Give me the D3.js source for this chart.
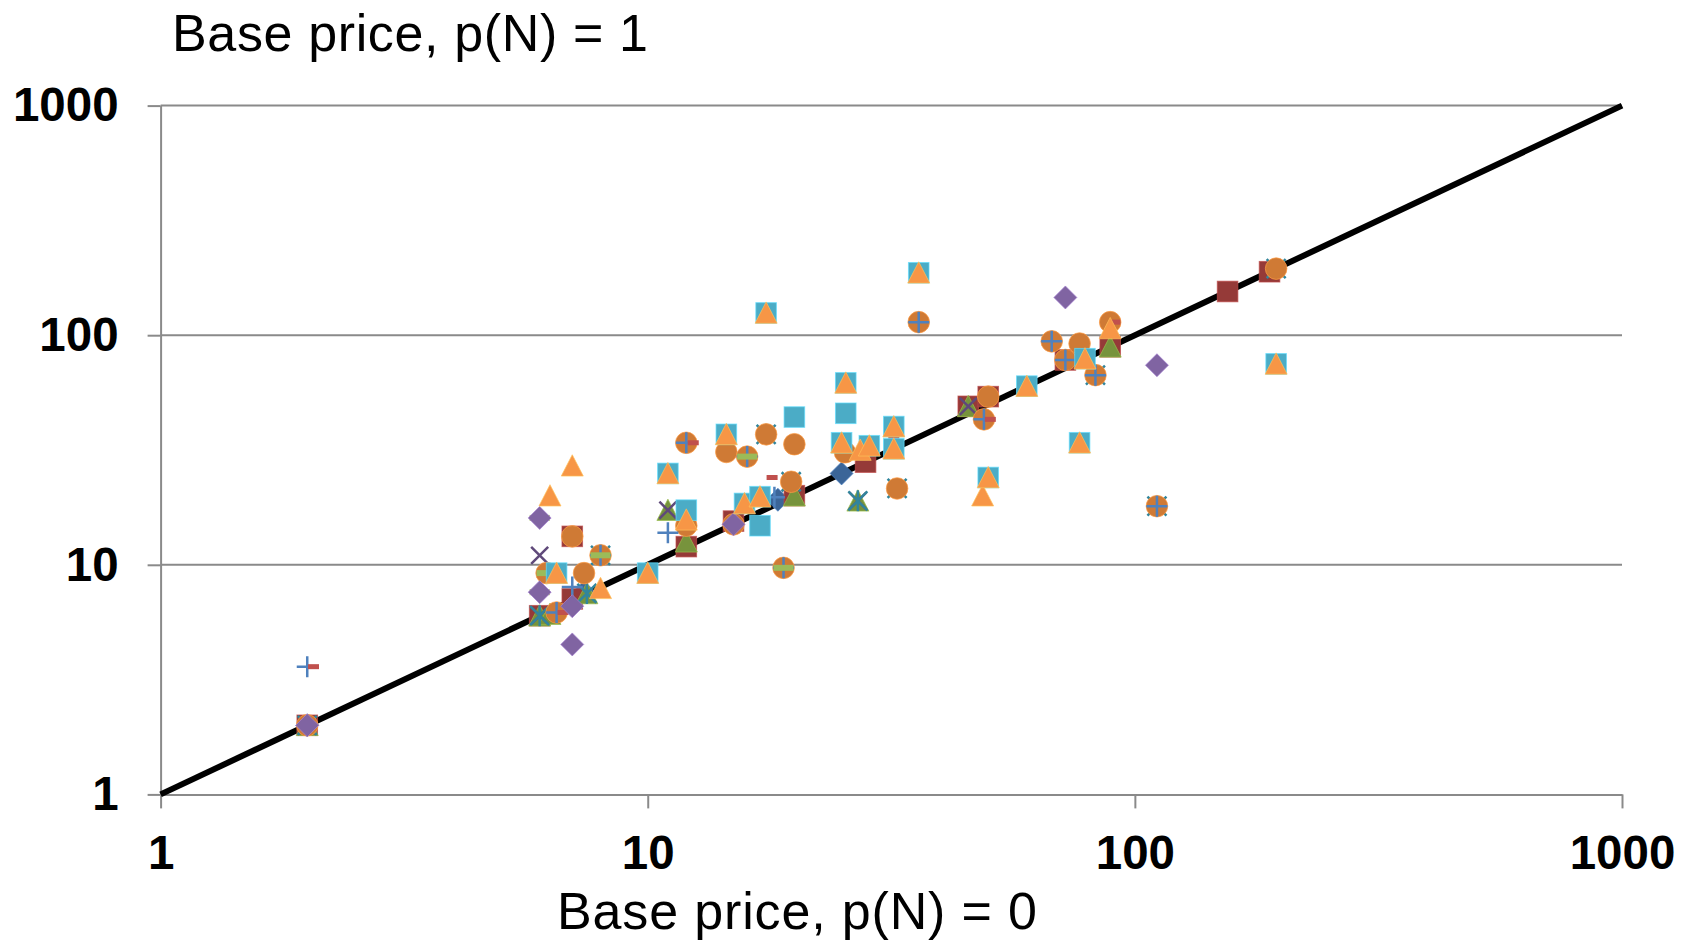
<!DOCTYPE html>
<html>
<head>
<meta charset="utf-8">
<script src="https://cdn.jsdelivr.net/npm/d3@7"></script>
<style>
  body { margin: 0; background: #fff; }
</style>
</head>
<body>
<script>
// ticks on both log axes
var xTicks = [1, 10, 100, 1000];
var yTicks = [1, 10, 100, 1000];
var identityLine = [1, 1000];

// one array per series, [p(N)=0 price, p(N)=1 price]
var s1 = [[2, 2], [7.4, 7.6], [18.5, 19.2], [25, 25]];
var s2 = [[2, 2], [6, 6], [7, 13.3], [7, 7.1], [12, 12], [15, 15.5], [20, 20], [28, 28], [45.5, 49], [50, 54], [72, 78], [89, 89], [155, 155], [189, 189]];
var s3 = [[2, 2], [6, 6], [6.3, 6.1], [7.5, 7.5], [11, 17.3], [12, 12.6], [20, 20], [27, 19], [45.5, 49], [89, 89]];
var s4 = [[2, 2], [6, 6], [6, 11], [11, 17.3], [27, 19], [45.5, 49]];
var s5 = [[2, 2], [6, 6], [7.5, 7.5], [8, 11], [17.5, 37], [19.7, 23], [27, 19], [32.5, 21.5], [83, 67], [111, 18], [195, 195]];
var s6 = [[2, 2], [6.2, 9.2], [6.5, 6.2], [7, 13.3], [7.4, 9.2], [8, 11], [12, 34], [12, 14.8], [14.5, 31], [15, 15], [16, 29.6], [17.5, 37], [19, 9.7], [19.7, 23], [20, 33.5], [25.4, 30.9], [32.5, 21.5], [36, 114], [49, 43], [50, 54], [67.5, 94], [72, 78], [77, 92], [83, 67], [89, 114], [111, 18], [195, 195]];
var s7 = [[2, 3.6], [6.5, 6.2], [7, 8], [8, 11], [11, 13.8], [12, 34], [16, 29.6], [18.2, 19.7], [19, 9.7], [36, 114], [49, 43], [67.5, 94], [72, 78], [83, 67], [111, 18]];
var s8 = [[2.06, 3.6], [6.7, 6.2], [12.4, 34], [18, 24], [32, 36], [50.5, 43], [91, 114]];
var s9 = [[6, 16], [6, 7.6], [6.2, 9.2], [8, 11], [16, 29.6], [19, 9.7]];
var s10 = [[2, 2], [6, 16], [6, 7.6], [7, 6.6], [7, 4.5], [15, 15], [72, 146], [111, 74]];
var s11 = [[6.5, 9.2], [10, 9.2], [11, 25], [12, 17.3], [14.5, 37], [15.8, 18.5], [17, 19.8], [17, 14.8], [17.5, 125], [20, 44], [25, 34], [25.5, 45.7], [25.5, 62], [28.5, 33], [32, 40], [32, 32], [36, 187], [50, 24], [60, 60], [77, 34], [79, 79], [195, 75]];
var s12 = [[6.3, 20], [7, 27], [6.5, 9.2], [8, 7.9], [10, 9.2], [11, 25], [12, 15.7], [14.5, 37], [15.8, 18.5], [17, 19.8], [17.5, 125], [25, 34], [25.5, 62], [27.3, 31.6], [28.5, 33], [32, 40], [32, 32], [36, 187], [48.7, 20], [50, 24], [60, 60], [77, 34], [79, 79], [89, 107], [195, 75]];

var series = [
    {data: s1, shape: "diamond", color: "#3b6598"},
    {data: s2, shape: "square", color: "#953a38"},
    {data: s3, shape: "triangle", color: "#77933c"},
    {data: s4, shape: "x", color: "#5f497a"},
    {data: s5, shape: "star", color: "#31859c"},
    {data: s6, shape: "circle", color: "#cf7a35"},
    {data: s7, shape: "plus", color: "#4f81bd"},
    {data: s8, shape: "dash", color: "#c0504d"},
    {data: s9, shape: "longdash", color: "#9bbb59"},
    {data: s10, shape: "diamond", color: "#8064a2"},
    {data: s11, shape: "square", color: "#4bacc6"},
    {data: s12, shape: "triangle", color: "#f79646"}
];

var width = 1690, height = 940;

var svg = d3.select("body").append("svg")
    .attr("width", width)
    .attr("height", height)
    .attr("font-family", "'Liberation Sans', Arial, sans-serif");

var x = d3.scaleLog().domain([1, 1000]).range([160.6, 1622]);
var y = d3.scaleLog().domain([1, 1000]).range([794.4, 105.6]);

// horizontal gridlines
svg.append("g").selectAll("line")
    .data(yTicks.slice(1))
    .enter().append("line")
    .attr("x1", x(1)).attr("x2", x(1000))
    .attr("y1", d => y(d)).attr("y2", d => y(d))
    .attr("stroke", "#8a8a8a")
    .attr("stroke-width", 2);

var xAxis = svg.append("g")
    .attr("transform", "translate(0," + y(1) + ")")
    .call(d3.axisBottom(x).tickValues(xTicks).tickFormat(d3.format("d"))
        .tickSize(14).tickSizeOuter(0).tickPadding(27));

var yAxis = svg.append("g")
    .attr("transform", "translate(" + x(1) + ",0)")
    .call(d3.axisLeft(y).tickValues(yTicks).tickFormat(d3.format("d"))
        .tickSize(13).tickSizeOuter(0).tickPadding(29));

[xAxis, yAxis].forEach(function(ax) {
    ax.select(".domain").attr("stroke", "#8a8a8a").attr("stroke-width", 2);
    ax.selectAll(".tick line").attr("stroke", "#8a8a8a").attr("stroke-width", 2);
    ax.selectAll(".tick text")
        .attr("fill", "#000")
        .attr("font-size", 47.5)
        .attr("font-weight", "bold")
        .attr("font-family", "'Liberation Sans', Arial, sans-serif");
});

// y = x reference line
svg.append("line")
    .attr("x1", x(identityLine[0])).attr("y1", y(identityLine[0]))
    .attr("x2", x(identityLine[1])).attr("y2", y(identityLine[1]))
    .attr("stroke", "#000")
    .attr("stroke-width", 6);

function drawMarker(g, shape, color) {
    var edge = d3.color(color).brighter(0.7).formatHex();
    var m;
    if (shape == "diamond") {
        m = g.append("path").attr("d", "M0,-11.5L11.5,0L0,11.5L-11.5,0Z").attr("fill", color);
    } else if (shape == "square") {
        m = g.append("rect").attr("x", -10.3).attr("y", -10.3).attr("width", 20.6).attr("height", 20.6)
            .attr("fill", color);
    } else if (shape == "triangle") {
        m = g.append("path").attr("d", "M0,-11L11,10.3L-11,10.3Z").attr("fill", color);
    } else if (shape == "circle") {
        m = g.append("circle").attr("r", 10.8).attr("fill", color);
    } else if (shape == "x") {
        g.append("path").attr("d", "M-8.5,-8.5L8.5,8.5M-8.5,8.5L8.5,-8.5")
            .attr("stroke", color).attr("stroke-width", 2.5).attr("fill", "none");
    } else if (shape == "star") {
        g.append("path").attr("d", "M-9.5,-9.5L9.5,9.5M-9.5,9.5L9.5,-9.5M0,-10.5L0,10.5")
            .attr("stroke", color).attr("stroke-width", 2.5).attr("fill", "none");
    } else if (shape == "plus") {
        g.append("path").attr("d", "M-10.5,0L10.5,0M0,-10.5L0,10.5")
            .attr("stroke", color).attr("stroke-width", 2.5).attr("fill", "none");
    } else if (shape == "dash") {
        g.append("rect").attr("x", -5.5).attr("y", -2.5).attr("width", 11).attr("height", 5)
            .attr("fill", color);
    } else if (shape == "longdash") {
        g.append("rect").attr("x", -10).attr("y", -3).attr("width", 20).attr("height", 6)
            .attr("fill", color);
    }
    if (m) m.attr("stroke", edge).attr("stroke-width", 1).attr("stroke-opacity", 0.7);
}

series.forEach(function(s) {
    var pts = svg.append("g").selectAll("g")
        .data(s.data)
        .enter().append("g")
        .attr("transform", d => "translate(" + x(d[0]) + "," + y(d[1]) + ")");
    pts.each(function() { drawMarker(d3.select(this), s.shape, s.color); });
});

// axis titles
svg.append("text")
    .attr("x", 172)
    .attr("y", 51)
    .attr("font-size", 52)
    .attr("fill", "#000")
    .attr("textLength", 476)
    .attr("lengthAdjust", "spacing")
    .text("Base price, p(N) = 1");

svg.append("text")
    .attr("x", 797)
    .attr("y", 929)
    .attr("text-anchor", "middle")
    .attr("font-size", 52)
    .attr("fill", "#000")
    .attr("textLength", 480)
    .attr("lengthAdjust", "spacing")
    .text("Base price, p(N) = 0");
</script>
</body>
</html>
